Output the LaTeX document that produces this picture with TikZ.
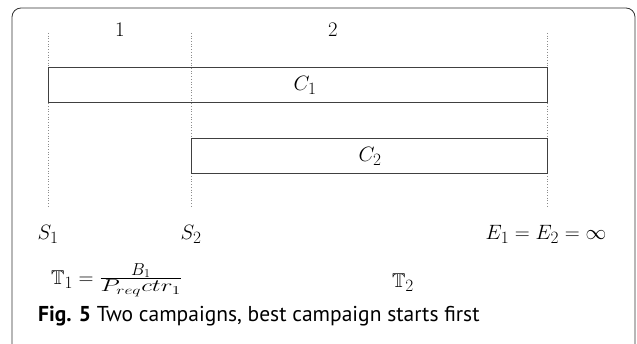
\documentclass[tikz,border=0pt]{standalone}
\usepackage{fontspec}
\usepackage{amssymb}
\usepackage{graphicx}
\DeclareMathSizes{20}{20}{16}{12}
\newfontfamily\capfont{PT Sans}
\tikzset{
  campaign/.style={draw=black!75, line width=0.8pt},
  marker/.style={draw=black!45, line width=0.7pt, dotted},
  mathlbl/.style={inner sep=0pt, font=\fontsize{20}{24}\selectfont},
}
\begin{document}
\begin{tikzpicture}[x=1pt, y=-1pt]
  \useasboundingbox (0,0) rectangle (637,344);
  % outer frame, open at the bottom
  \begin{scope}
    \clip (0,0) rectangle (637,344);
    \draw[black!80, line width=0.8pt, rounded corners=9pt] (12,8) rectangle (635,370);
  \end{scope}
  % time markers
  \coordinate (t1a) at (48,33);  \coordinate (t1b) at (48,208);
  \coordinate (t2a) at (191,33); \coordinate (t2b) at (191,208);
  \coordinate (t3a) at (547,33); \coordinate (t3b) at (547,208);
  \draw[marker] (t1a) -- (t1b);
  \draw[marker] (t2a) -- (t2b);
  \draw[marker] (t3a) -- (t3b);
  % campaigns
  \draw[campaign] (48,67) rectangle (547,102);
  \draw[campaign] (191,138) rectangle (547,173);
  \node[mathlbl] (c1) at (305,85) {$C_1$};
  \node[mathlbl] (c2) at (370,156) {$C_2$};
  % period labels
  \node[mathlbl] (p1) at (120,30) {$1$};
  \node[mathlbl] (p2) at (333,30) {$2$};
  % start and end times
  \node[mathlbl] (s1) at (48,234) {$S_1$};
  \node[mathlbl] (s2) at (191,234) {$S_2$};
  \node[mathlbl] (e) at (546,234) {$E_1 = E_2 = \infty$};
  % durations
  \node[mathlbl, anchor=west] (tt1) at (51,280)
    {$\mathbb{T}_1 = \frac{B_1}{\scalebox{1.45}[1]{$\scriptstyle P_{req}ctr_1$}}$};
  \node[mathlbl] (tt2) at (403,283) {$\mathbb{T}_2$};
  % caption
  \node[anchor=base west, inner sep=0pt, font=\capfont\fontsize{21.5}{25}\selectfont] (cap) at (38,322)
    {\textbf{Fig. 5} Two campaigns, best campaign starts first};
\end{tikzpicture}
\end{document}
